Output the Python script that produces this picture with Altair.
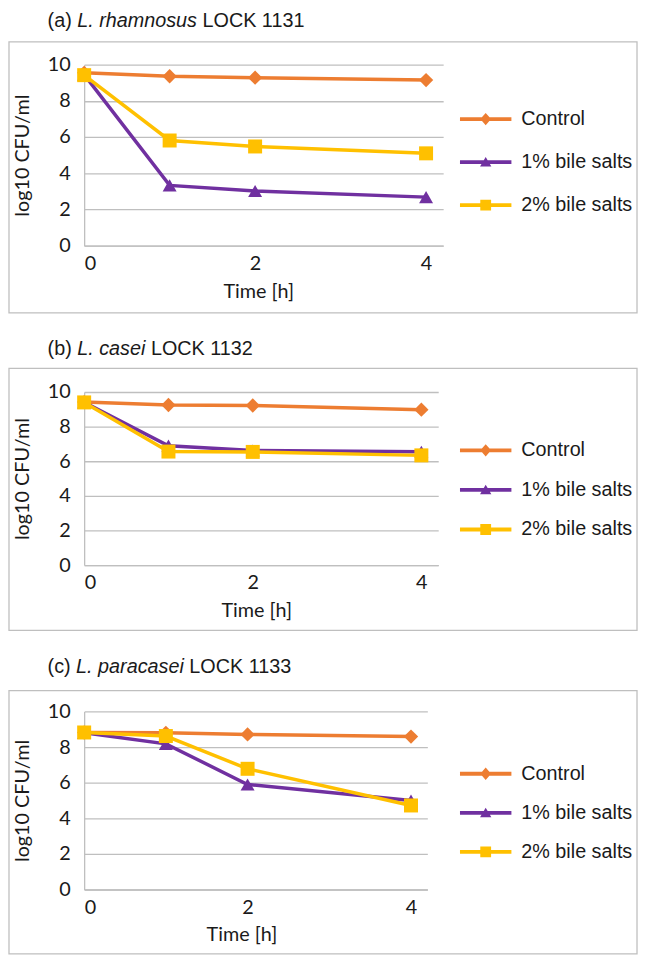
import altair as alt
import pandas as pd

# ---------------- data ----------------
time_h = [0, 1, 2, 4]
series = ["Control", "1% bile salts", "2% bile salts"]

tags = ["(a)", "(b)", "(c)"]
species = ["L. rhamnosus", "L. casei", "L. paracasei"]
strains = ["LOCK 1131", "LOCK 1132", "LOCK 1133"]

a_control = [9.55, 9.36, 9.28, 9.15]
a_bile1 = [9.45, 3.33, 3.02, 2.68]
a_bile2 = [9.42, 5.81, 5.48, 5.10]

b_control = [9.42, 9.25, 9.22, 8.98]
b_bile1 = [9.40, 6.90, 6.62, 6.55]
b_bile2 = [9.40, 6.56, 6.54, 6.34]

c_control = [8.82, 8.80, 8.71, 8.59]
c_bile1 = [8.80, 8.18, 5.90, 5.00]
c_bile2 = [8.82, 8.62, 6.78, 4.72]

y_ticks = [0, 2, 4, 6, 8, 10]
x_ticks = [0, 2, 4]

panel_values = [
    [a_control, a_bile1, a_bile2],
    [b_control, b_bile1, b_bile2],
    [c_control, c_bile1, c_bile2],
]

# ---------------- style ----------------
colors = ["#ED7D31", "#7030A0", "#FFC000"]
marker_shapes = ["diamond", "triangle-up", "square"]
marker_sizes = [210, 200, 200]
legend_paths = [
    "M-1,-0.075H1V0.075H-1Z M0,-0.24L0.21,0L0,0.24L-0.21,0Z",
    "M-1,-0.075H1V0.075H-1Z M0,-0.2L0.22,0.17L-0.22,0.17Z",
    "M-1,-0.075H1V0.075H-1Z M-0.21,-0.21H0.21V0.21H-0.21Z",
]
GRID = "#BFBFBF"
TXT = "#1a1a1a"
AXFONT = "Lato"
TFONT = "Liberation Sans"
TSIZE = 20

geo = [
    dict(w=363, h=183, title_y=-38, box_top=-23, box_bot=251, tx=176, leg_y=29, row_pad=7.5),
    dict(w=358, h=175, title_y=-37, box_top=-24, box_bot=241, tx=174, leg_y=33, row_pad=4),
    dict(w=347, h=180, title_y=-39, box_top=-21, box_bot=245, tx=159, leg_y=37, row_pad=3.5),
]

ARIAL = {' ': 278, '(': 333, ')': 333, '.': 278, 'a': 556, 'b': 556, 'c': 500,
         'e': 556, 'h': 556, 'i': 222, 'm': 833, 'n': 556, 'o': 556, 'p': 556,
         'r': 333, 's': 500, 'u': 556, 'L': 556, 'O': 778, 'C': 722, 'K': 667,
         '1': 556, '2': 556, '3': 556}


def text_w(s, size=TSIZE):
    return sum(ARIAL.get(ch, 556) for ch in s) * size / 1000.0


def panel(k):
    g = geo[k]
    vals = panel_values[k]
    rows = []
    for s, v in zip(series, vals):
        for t, y in zip(time_h, v):
            rows.append({"time": t, "value": y, "series": s})
    df = pd.DataFrame(rows)

    X = alt.X("time:Q", scale=alt.Scale(domain=[0, 4.2], nice=False, zero=False),
              axis=alt.Axis(values=x_ticks, grid=False, domain=True, domainColor=GRID,
                            domainWidth=1.3, ticks=False, tickSize=0, labelPadding=8,
                            labelFont=AXFONT, labelFontSize=20, labelColor=TXT,
                            title="Time [h]", titleFont=AXFONT, titleFontSize=20,
                            titleFontWeight="normal", titleColor=TXT, titlePadding=8,
                            titleX=g["tx"]))
    Y = alt.Y("value:Q", scale=alt.Scale(domain=[0, 10], nice=False),
              axis=alt.Axis(values=y_ticks, grid=True, gridColor=GRID, gridWidth=1.3,
                            domain=True, domainColor=GRID, domainWidth=1.3, ticks=False,
                            tickSize=0, labelPadding=14, labelFont=AXFONT, labelFontSize=20,
                            labelColor=TXT, title="log10 CFU/ml", titleFont=AXFONT,
                            titleFontSize=20, titleFontWeight="normal", titleColor=TXT,
                            titlePadding=15))

    layers = []
    # frame box
    layers.append(
        alt.Chart(pd.DataFrame({"k": [0]})).mark_rect(
            filled=False, color=GRID, strokeWidth=1.3
        ).encode(x=alt.value(-76), x2=alt.value(559),
                 y=alt.value(g["box_top"]), y2=alt.value(g["box_bot"]))
    )
    # title pieces
    x0 = -37
    pieces = [(tags[k], "normal", x0),
              (species[k], "italic", x0 + text_w(tags[k] + " ")),
              (strains[k], "normal", x0 + text_w(tags[k] + " ") + text_w(species[k] + " "))]
    for txt, style, xp in pieces:
        layers.append(
            alt.Chart(pd.DataFrame({"t": [txt]})).mark_text(
                align="left", baseline="alphabetic", font=TFONT, fontSize=TSIZE,
                fontStyle=style, color=TXT
            ).encode(text="t:N", x=alt.value(xp), y=alt.value(g["title_y"]))
        )
    # series
    for i, s in enumerate(series):
        base = alt.Chart(df).transform_filter(alt.datum.series == s)
        layers.append(base.mark_line(color=colors[i], strokeWidth=3.5).encode(x=X, y=Y))
        layers.append(base.mark_point(filled=True, color=colors[i], shape=marker_shapes[i],
                                      size=marker_sizes[i], opacity=1).encode(x=X, y=Y))
    # legend (legend-only layer)
    leg = alt.Legend(orient="none", legendX=380, legendY=g["leg_y"], title=None,
                     symbolSize=2704, symbolStrokeWidth=0, symbolOpacity=1,
                     labelFont=TFONT, labelFontSize=TSIZE, labelColor=TXT, labelOffset=10,
                     rowPadding=g["row_pad"], padding=0, labelLimit=300)
    layers.append(
        alt.Chart(pd.DataFrame({"series": series})).transform_filter("false")
        .mark_point(filled=True)
        .encode(color=alt.Color("series:N", scale=alt.Scale(domain=series, range=colors), legend=leg),
                shape=alt.Shape("series:N", scale=alt.Scale(domain=series, range=legend_paths), legend=leg))
    )
    return alt.layer(*layers).properties(width=g["w"], height=g["h"])


chart = alt.vconcat(panel(0), panel(1), panel(2), spacing=26).resolve_scale(
    color="independent", shape="independent"
).resolve_legend(color="independent", shape="independent").properties(
    padding={"top": -2, "left": 0, "right": 0, "bottom": 0}
).configure_view(stroke=None)

chart.save("out.html", embed_options={"renderer": "svg", "actions": False})
